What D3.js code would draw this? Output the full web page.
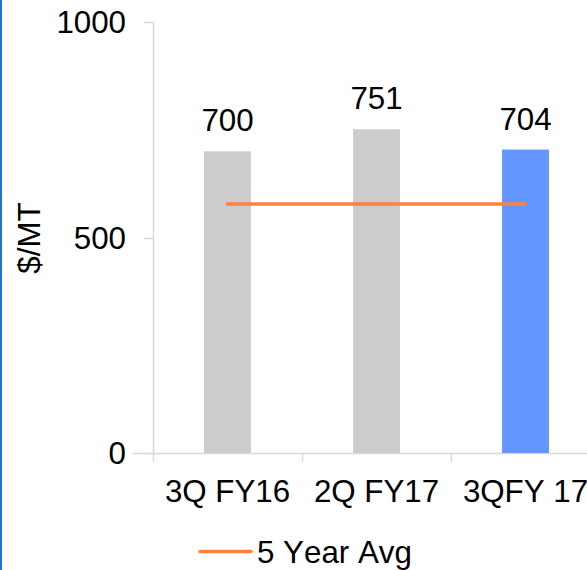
<!DOCTYPE html>
<html>
<head>
<meta charset="utf-8">
<script src="https://cdn.jsdelivr.net/npm/d3@7"></script>
<style>
html,body{margin:0;padding:0;background:#fff;}
svg{display:block;}
text{font-family:"Liberation Sans",Arial,sans-serif;fill:#000;font-kerning:none;}
</style>
</head>
<body>
<svg id="chart" width="587" height="570"></svg>
<script>
const categories = ["3Q FY16", "2Q FY17", "3QFY 17"];
const values = [700, 751, 704];
const avgValues = [578, 578, 578];
const yTicks = [0, 500, 1000];
const barColors = ["#cccccc", "#cccccc", "#6396ff"];
const yLabel = "$/MT";
const legendLabel = "5 Year Avg";

const svg = d3.select("#chart");
const FS = 31.3;

// left blue border
svg.append("rect").attr("x", 0).attr("y", 0).attr("width", 2).attr("height", 570).attr("fill", "#1a78d2");

const x = d3.scaleBand().domain(categories).range([153, 600]).paddingInner(0.685).paddingOuter(0.3425);
const xb = d3.scaleBand().domain(categories).range([153, 600]);
const y = d3.scaleLinear().domain([0, 1000]).range([453, 22]);

// y axis
svg.append("line").attr("x1", 153.5).attr("x2", 153.5).attr("y1", y(1000)).attr("y2", y(0)).attr("stroke", "#d9d9d9").attr("stroke-width", 1.5);
const yg = svg.append("g");
yTicks.forEach(t => {
  yg.append("line").attr("x1", 144).attr("x2", 153.5).attr("y1", Math.round(y(t)) + 0.5).attr("y2", Math.round(y(t)) + 0.5).attr("stroke", "#d9d9d9").attr("stroke-width", 1.5);
  yg.append("text").attr("x", 126).attr("y", y(t)).attr("dy", "0.36em").attr("text-anchor", "end").attr("font-size", FS).text(t);
});

// x axis
svg.append("line").attr("x1", 133).attr("x2", 587).attr("y1", 453.5).attr("y2", 453.5).attr("stroke", "#d9d9d9").attr("stroke-width", 1.5);
categories.forEach(c => {
  svg.append("line").attr("x1", Math.round(xb(c)) + 0.5).attr("x2", Math.round(xb(c)) + 0.5).attr("y1", 453).attr("y2", 462).attr("stroke", "#d9d9d9").attr("stroke-width", 1.5);
  svg.append("text").attr("x", xb(c) + xb.bandwidth() / 2).attr("y", 501.5).attr("text-anchor", "middle").attr("font-size", FS).text(c);
});

// bars
svg.selectAll("rect.bar").data(values).enter().append("rect").attr("class", "bar")
  .attr("x", (d, i) => x(categories[i]))
  .attr("width", x.bandwidth())
  .attr("y", d => y(d))
  .attr("height", d => y(0) - y(d))
  .attr("fill", (d, i) => barColors[i]);

// labels
svg.selectAll("text.lbl").data(values).enter().append("text").attr("class", "lbl")
  .attr("x", (d, i) => xb(categories[i]) + xb.bandwidth() / 2)
  .attr("y", d => y(d) - 20)
  .attr("text-anchor", "middle").attr("font-size", FS).text(d => d);

// avg line
const line = d3.line().x((d, i) => xb(categories[i]) + xb.bandwidth() / 2).y(d => y(d));
svg.append("path").datum(avgValues).attr("d", line).attr("fill", "none").attr("stroke", "#ff823c").attr("stroke-width", 3.5).attr("stroke-linecap", "round");

// y label
svg.append("text").attr("transform", "translate(40,238) rotate(-90)").attr("text-anchor", "middle").attr("font-size", FS).text(yLabel);

// legend
svg.append("line").attr("x1", 200).attr("x2", 251).attr("y1", 551.5).attr("y2", 551.5).attr("stroke", "#ff823c").attr("stroke-width", 3.5).attr("stroke-linecap", "round");
svg.append("text").attr("x", 257).attr("y", 562.5).attr("font-size", FS).text(legendLabel);
</script>
</body>
</html>
